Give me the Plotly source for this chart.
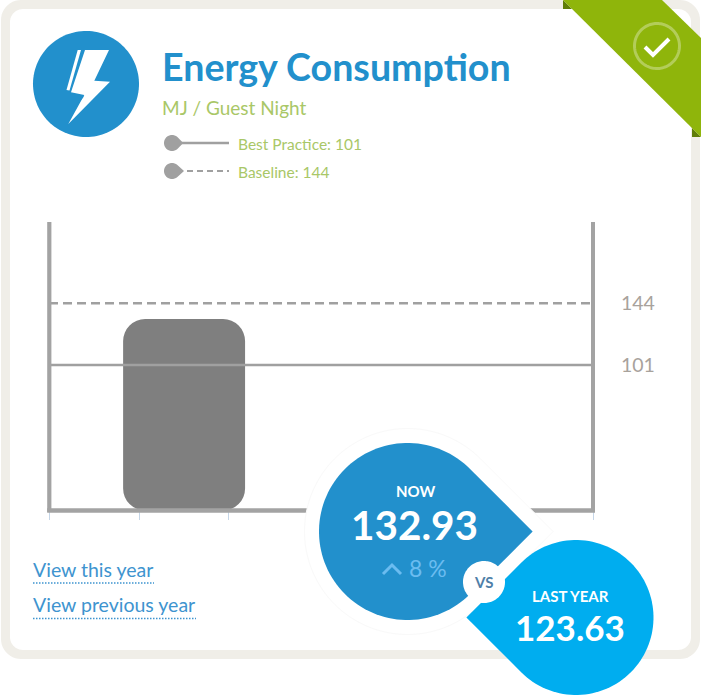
import numpy as np
import plotly.graph_objects as go

# ---- data ----
TITLE = "Energy Consumption"
UNIT = "MJ / Guest Night"
BEST_PRACTICE = 101
BASELINE = 144
NOW_VALUE = 132.93
LAST_YEAR_VALUE = 123.63
CHANGE_TEXT = "8 %"
bar_slot = [1.49]
tick_slots = [0, 0.995, 1.985, 3, 4, 5, 6]
ref_x = [0, 6]

W, H = 701, 696
PX = lambda x: x / W
PY = lambda y: 1 - y / H
FONT = "Lato"


def path(points, close=True):
    s = "M" + " L".join(f"{PX(x):.5f},{PY(y):.5f}" for x, y in points)
    return s + (" Z" if close else "")


def arc(cx, cy, r, a0, a1, n=48):
    t = np.radians(np.linspace(a0, a1, n))
    return [(cx + r * np.cos(a), cy + r * np.sin(a)) for a in t]


def circle(cx, cy, r):
    return arc(cx, cy, r, 0, 358, 120)


def rrect(x0, y0, x1, y1, r):
    return (arc(x1 - r, y0 + r, r, -90, 0, 12) + arc(x1 - r, y1 - r, r, 0, 90, 12)
            + arc(x0 + r, y1 - r, r, 90, 180, 12) + arc(x0 + r, y0 + r, r, 180, 270, 12))


def drop(cx, cy, r, tip_angle, tip_scale=2 ** 0.5):
    tip = (cx + r * tip_scale * np.cos(np.radians(tip_angle)), cy + r * tip_scale * np.sin(np.radians(tip_angle)))
    return arc(cx, cy, r, tip_angle + 45, tip_angle + 315, 100) + [tip]


shapes = []


def add(points, fill, layer="above", line=None, close=True, dash=None, width=0):
    d = dict(type="path", xref="paper", yref="paper", path=path(points, close), layer=layer)
    d["fillcolor"] = fill if fill else "rgba(0,0,0,0)"
    d["line"] = dict(color=line or "rgba(0,0,0,0)", width=width)
    if dash:
        d["line"]["dash"] = dash
    shapes.append(d)


# card
add(rrect(1, 0, 700, 659, 20), "#f0eee8", "below")
add(rrect(10, 9, 691, 650, 13), "#ffffff", "below")

# ribbon
add([(563, 0), (563, 9), (572, 9)], "#5f7d08", "below")
add([(692, 128), (692, 137), (701, 137)], "#5f7d08", "below")
add([(563, 0), (662, 0), (701, 38), (701, 137)], "#8fb50b", "below")
add(circle(657, 46, 22.5), None, "below", "rgba(255,255,255,0.32)", width=3)
add([(645, 47), (653, 55), (669, 39)], None, "below", "#ffffff", close=False, width=4)

# icon
add(circle(86, 84, 53), "#2290cc", "below")
add([(77.7, 50), (81, 50), (69.5, 90.5), (66.5, 90)], "#ffffff", "below")
add([(85, 50), (109, 50), (94.3, 80.7), (110, 81.7), (68.3, 124), (84.3, 95), (71, 92.3)], "#ffffff", "below")
add([(82, 96), (74, 108), (84, 96.5)], "#2290cc", "below")

# legend glyphs
add(drop(172, 143, 8, 0, 1.4), "#a0a0a0", "below")
add([(178, 143), (229, 143)], None, "below", "#a0a0a0", close=False, width=2.5)
add(drop(172, 171, 8, 0, 1.5), "#a0a0a0", "below")
add([(187, 171), (229, 171)], None, "below", "#a0a0a0", close=False, width=2.2, dash="6px,4px")

# link underlines
add([(33, 583), (154, 583)], None, "below", "#3e94cf", close=False, width=1.3, dash="1.5px,1.5px")
add([(33, 618.5), (196, 618.5)], None, "below", "#3e94cf", close=False, width=1.3, dash="1.5px,1.5px")

# axis frame
add([(49.3, 222), (49.3, 512)], None, "above", "#a3a3a3", close=False, width=4.2)
add([(593, 222), (593, 512)], None, "above", "#a3a3a3", close=False, width=4)
add([(47.2, 510.5), (595, 510.5)], None, "above", "#a3a3a3", close=False, width=4.5)

# callouts
add(drop(407.5, 531.5, 103, 0), "#ffffff", "above", "#f9f9f9", width=1)
add(drop(407.5, 531.5, 88.5, 0), "#2290cc")
add(drop(576, 617.5, 77.5, 180), "#00adef")
add(circle(484, 582, 21), "#ffffff")
add([(383, 574), (392, 565), (401, 574)], None, "above", "#6bbcf0", close=False, width=3)

fig = go.Figure()
fig.add_trace(go.Bar(x=bar_slot, y=[NOW_VALUE], base=[0], width=1.345,
                     marker=dict(color="#7f7f7f", cornerradius=22, line_width=0), hoverinfo="skip"))
fig.add_trace(go.Scatter(x=ref_x, y=[BASELINE, BASELINE], mode="lines", line=dict(color="#a0a0a0", width=2.5, dash="9px,5px"), hoverinfo="skip"))
fig.add_trace(go.Scatter(x=ref_x, y=[BEST_PRACTICE, BEST_PRACTICE], mode="lines", line=dict(color="#a0a0a0", width=2.5), hoverinfo="skip"))


def text(x, y, s, size, color, bold=False, anchor="left"):
    return dict(xref="paper", yref="paper", x=PX(x), y=PY(y), text=f"<b>{s}</b>" if bold else s, showarrow=False,
                xanchor=anchor, yanchor="middle", font=dict(family=FONT, size=size, color=color), borderpad=0, borderwidth=0)


annotations = [
    text(162, 67, TITLE, 37.6, "#2290cc", True),
    text(162, 107, UNIT, 19, "#a9c767"),
    text(238, 143.5, f"Best Practice: {BEST_PRACTICE}", 15.5, "#a9c767"),
    text(238, 171.5, f"Baseline: {BASELINE}", 15.5, "#a9c767"),
    text(33, 569, "View this year", 19.5, "#3e94cf"),
    text(33, 604, "View previous year", 19.5, "#3e94cf"),
    text(415, 491, "NOW", 15, "#ffffff", True, "center"),
    text(414, 524, f"{NOW_VALUE:.2f}", 40.5, "#ffffff", True, "center"),
    text(428, 568, CHANGE_TEXT, 23, "#6bbcf0", False, "center"),
    text(483, 582, "VS", 15, "#4f7fa8", True, "center"),
    text(570, 596, "LAST YEAR", 15, "#ffffff", True, "center"),
    text(570, 627, f"{LAST_YEAR_VALUE:.2f}", 35, "#ffffff", True, "center"),
]

fig.update_layout(
    width=W, height=H, margin=dict(l=0, r=0, t=0, b=0), autosize=False,
    paper_bgcolor="#ffffff", plot_bgcolor="rgba(0,0,0,0)", showlegend=False, barmode="overlay",
    shapes=shapes, annotations=annotations,
    xaxis=dict(domain=[PX(49), PX(593)], range=[0, 6], tickvals=tick_slots, showticklabels=False, ticks="outside",
               ticklen=8, tickwidth=1, tickcolor="#c5d6e8", showgrid=False, zeroline=False, showline=False, fixedrange=True),
    yaxis=dict(domain=[PY(510.5), PY(222.5)], range=[0, 200], side="right", tickvals=[BEST_PRACTICE, BASELINE],
               ticktext=[str(BEST_PRACTICE), str(BASELINE)], ticks="", ticklabelstandoff=27, showgrid=False, zeroline=False,
               showline=False, fixedrange=True, tickfont=dict(family=FONT, size=19.5, color="#a8a29c")),
)

fig.write_html("out.html", config={"displayModeBar": False},
               post_script="document.body.style.margin='0';document.documentElement.style.overflow='hidden';")
